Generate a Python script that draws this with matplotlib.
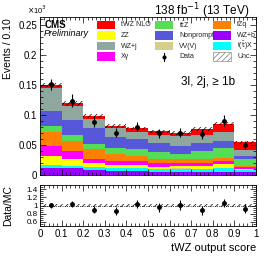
import numpy as np
import matplotlib
matplotlib.use('Agg')
import matplotlib.pyplot as plt
from matplotlib.patches import Rectangle
from matplotlib.lines import Line2D
from matplotlib.ticker import MultipleLocator, FormatStrFormatter

plt.rcParams['font.family'] = ['Liberation Sans', 'DejaVu Sans']
plt.rcParams['hatch.linewidth'] = 0.5
plt.rcParams['hatch.color'] = '#777777'

# bin edges of the tWZ output score
edges = [0.0, 0.1, 0.2, 0.3, 0.4, 0.5, 0.6, 0.7, 0.8, 0.9, 1.0]

# processes, bottom of stack first (events x 10^3)
wzb = [0.011, 0.011, 0.008, 0.007, 0.007, 0.005, 0.005, 0.0055, 0.0055, 0.005]
ttx = [0.0056, 0.0039, 0.0045, 0.0039, 0.0039, 0.0044, 0.0056, 0.005, 0.0066, 0.0033]
vvv = [0.0004, 0.0003, 0.0003, 0.0003, 0.0003, 0.0003, 0.0003, 0.0003, 0.0003, 0.0002]
zz = [0.0139, 0.0111, 0.0066, 0.0056, 0.0056, 0.0034, 0.0044, 0.005, 0.0061, 0.0023]
xg = [0.0166, 0.0139, 0.0073, 0.0066, 0.0066, 0.0066, 0.0044, 0.005, 0.005, 0.0022]
tzq = [0.0239, 0.0167, 0.0161, 0.0117, 0.0084, 0.0067, 0.0067, 0.0061, 0.0056, 0.0022]
ttz = [0.0095, 0.010, 0.0089, 0.0094, 0.0111, 0.0111, 0.0089, 0.0133, 0.0155, 0.0122]
nonprompt = [0.025, 0.025, 0.0261, 0.0184, 0.0162, 0.0156, 0.0133, 0.0128, 0.0123, 0.0045]
wzj = [0.0388, 0.0233, 0.0162, 0.015, 0.0132, 0.0139, 0.0156, 0.0139, 0.0155, 0.0089]
twz = [0.005, 0.0044, 0.004, 0.0039, 0.0053, 0.0055, 0.0055, 0.0098, 0.0133, 0.0134]

data = [0.151, 0.124, 0.088, 0.0706, 0.0806, 0.0694, 0.0706, 0.0678, 0.0906, 0.050]
data_err = [0.009, 0.010, 0.008, 0.008, 0.008, 0.008, 0.008, 0.008, 0.009, 0.006]
mc_unc = [0.004, 0.004, 0.003, 0.003, 0.003, 0.003, 0.003, 0.003, 0.003, 0.002]

stack = [
    ('WZ+b', wzb, '#9a00ff'),
    ('t(t)X', ttx, '#00ffff'),
    ('VV(V)', vvv, '#d6cf8a'),
    ('ZZ', zz, '#ffff00'),
    ('Xγ', xg, '#ff00ff'),
    ('tZq', tzq, '#ff7f00'),
    ('ttZ', ttz, '#55dd55'),
    ('Nonprompt', nonprompt, '#5757d9'),
    ('WZ+j', wzj, '#8ea8a0'),
    ('tWZ NLO', twz, '#ff0000'),
]

# legend layout: columns of entries as in the reference
legend_cols = [['tWZ NLO', 'ZZ', 'WZ+j', 'Xγ'],
               ['ttZ', 'Nonprompt', 'VV(V)', 'Data'],
               ['tZq', 'WZ+b', 't(t)X', 'Unc.']]
legend_text = {'ttZ': 't$\\bar{\\rm t}$Z', 't(t)X': 't($\\bar{\\rm t}$)X'}

edges = np.array(edges)
centers = 0.5 * (edges[1:] + edges[:-1])
width = np.diff(edges)

fig = plt.figure(figsize=(2.7, 2.62), dpi=100)
ax = fig.add_axes([40 / 270, 1 - 175 / 262, 216 / 270, 158 / 262])
rax = fig.add_axes([40 / 270, 1 - 226 / 262, 216 / 270, 41 / 262])

bottom = np.zeros(len(centers))
colors = {}
for name, vals, c in stack:
    ax.bar(centers, vals, width=width, bottom=bottom, color=c, linewidth=0)
    bottom = bottom + np.array(vals)
    colors[name] = c
total = bottom

unc = np.array(mc_unc)
ax.bar(centers, 2 * unc, width=width, bottom=total - unc, fill=False,
       hatch='//////', linewidth=0)
ax.errorbar(centers, data, yerr=data_err, fmt='o', color='k', ms=2.5,
            elinewidth=0.8, capsize=0)

ax.set_xlim(0, 1)
ax.set_ylim(0, 0.263)
ax.xaxis.set_major_locator(MultipleLocator(0.1))
ax.xaxis.set_minor_locator(MultipleLocator(0.02))
ax.yaxis.set_major_locator(MultipleLocator(0.05))
ax.yaxis.set_minor_locator(MultipleLocator(0.01))
ax.yaxis.set_major_formatter(FormatStrFormatter('%g'))
ax.tick_params(which='both', direction='in', top=True, right=True,
               labelbottom=False, labelsize=7, width=0.5, pad=2)
ax.tick_params(which='major', length=4)
ax.tick_params(which='minor', length=2)
for s in ax.spines.values():
    s.set_linewidth(0.6)

# ratio panel
ratio = np.array(data) / total
ratio_err = np.array(data_err) / total
rax.bar(centers, 2 * unc / total, width=width, bottom=1 - unc / total,
        fill=False, hatch='//////', linewidth=0)
rax.axhline(1, color='k', ls=':', lw=0.6)
rax.errorbar(centers, ratio, yerr=ratio_err, fmt='o', color='k', ms=2.5,
             elinewidth=0.8, capsize=0)
rax.set_xlim(0, 1)
rax.set_ylim(0.5, 1.5)
rax.xaxis.set_major_locator(MultipleLocator(0.1))
rax.xaxis.set_minor_locator(MultipleLocator(0.02))
rax.yaxis.set_minor_locator(MultipleLocator(0.05))
rax.xaxis.set_major_formatter(FormatStrFormatter('%g'))
rax.yaxis.set_major_formatter(FormatStrFormatter('%g'))
rax.set_yticks([0.6, 0.8, 1.0, 1.2, 1.4])
rax.tick_params(which='both', direction='in', top=True, right=True,
                labelsize=7, width=0.5, pad=2)
rax.tick_params(axis='y', labelsize=5.8, pad=1.5)
rax.tick_params(which='major', length=4)
rax.tick_params(which='minor', length=2)
for s in rax.spines.values():
    s.set_linewidth(0.6)

# legend, drawn by hand in figure pixels
col_x = [97, 155, 213]
row_y = [25, 35.5, 46, 56.5]
for cx, names in zip(col_x, legend_cols):
    for ry, name in zip(row_y, names):
        x0, y0 = cx / 270, 1 - (ry + 4) / 262
        w, h = 18 / 270, 8 / 262
        if name == 'Data':
            fig.add_artist(Line2D([x0 + w / 2] * 2, [y0, y0 + h], color='k', lw=0.8))
            fig.add_artist(Line2D([x0 + w / 2], [y0 + h / 2], marker='o', ms=2,
                                  color='k'))
        elif name == 'Unc.':
            fig.add_artist(Rectangle((x0, y0), w, h, facecolor='white',
                                     hatch='//////', edgecolor='#777777',
                                     linewidth=0.4, transform=fig.transFigure))
        else:
            fig.add_artist(Rectangle((x0, y0), w, h, facecolor=colors[name],
                                     linewidth=0, transform=fig.transFigure))
        fig.text((cx + 24) / 270, 1 - ry / 262, legend_text.get(name, name),
                 fontsize=5, ha='left', va='center', color='#222222')

fig.text(45 / 270, 1 - 25 / 262, 'CMS', fontsize=7, fontweight='bold',
         ha='left', va='center')
fig.text(44 / 270, 1 - 34 / 262, 'Preliminary', fontsize=6.5, style='italic',
         ha='left', va='center')
fig.text(250 / 270, 1 - 11 / 262, '138 fb$^{-1}$ (13 TeV)', fontsize=8.5,
         ha='right', va='center')
fig.text(27 / 270, 1 - 10 / 262, '$\\times$10$^{3}$', fontsize=5.5,
         ha='left', va='center')
fig.text(235 / 270, 1 - 82 / 262, '3l, 2j, ≥ 1b', fontsize=8.5,
         ha='right', va='center')
fig.text(8 / 270, 1 - 18 / 262, 'Events / 0.10', fontsize=7.5, rotation=90,
         ha='center', va='top')
fig.text(8 / 270, 1 - 185 / 262, 'Data/MC', fontsize=7.5, rotation=90,
         ha='center', va='top')
fig.text(256 / 270, 1 - 248 / 262, 'tWZ output score', fontsize=8,
         ha='right', va='center')

fig.savefig('out.png', dpi=100)
